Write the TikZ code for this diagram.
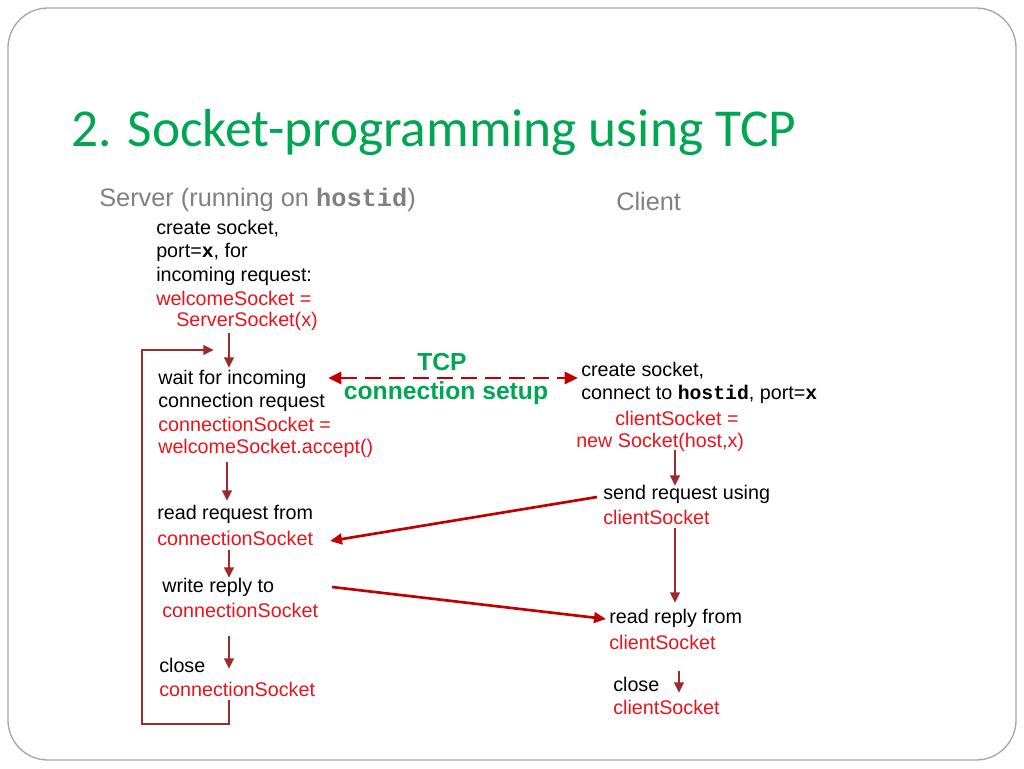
\documentclass[tikz,border=0pt]{standalone}
\usepackage{fontspec}
\setmainfont{Liberation Sans}
\setmonofont{Liberation Mono}
\newfontfamily\titlefont{Carlito}
\usetikzlibrary{arrows.meta}
\definecolor{tgreen}{HTML}{00A651}
\definecolor{dred}{HTML}{9E2A2A}
\definecolor{bred}{HTML}{C00000}
\definecolor{tred}{HTML}{E8141C}
\begin{document}
\begin{tikzpicture}[x=0.75pt,y=-0.75pt,
  txt/.style={anchor=west,inner sep=0pt,font=\fontsize{14.8}{17}\selectfont},
  rtxt/.style={txt,text=tred},
  down/.style={draw=dred,line width=2pt,-{Triangle[length=8pt,width=7pt]}},
  msg/.style={draw=bred,line width=2pt,-{Triangle[length=9pt,width=8pt]}}]
\useasboundingbox (0,0) rectangle (1024,768);
\fill[white] (0,0) rectangle (1024,768);
\draw[gray!70,line width=1pt,rounded corners=30] (8,8) rectangle (1016,760);
\node[anchor=west,inner sep=0pt,text=tgreen,font=\titlefont\fontsize{40}{46}\selectfont] (title) at (71,133) {2. Socket-programming using TCP};
\node[anchor=west,inner sep=0pt,text=gray,font=\fontsize{19}{22}\selectfont] (srv) at (99,200) {Server (running on \texttt{\bfseries hostid})};
\node[anchor=west,inner sep=0pt,text=gray,font=\fontsize{19}{22}\selectfont] (cli) at (616,201) {Client};
% server
\node[txt] (s1) at (156,229) {create socket,};
\node[txt] (s2) at (156,252) {port=\texttt{\bfseries x}, for};
\node[txt] (s3) at (156,276) {incoming request:};
\node[rtxt] (s4) at (156,298) {welcomeSocket =};
\node[rtxt] (s5) at (176,321) {ServerSocket(x)};
\node[txt] (w1) at (158,379) {wait for incoming};
\node[txt] (w2) at (158,402) {connection request};
\node[rtxt] (w3) at (158,424) {connectionSocket =};
\node[rtxt] (w4) at (158,448) {welcomeSocket.accept()};
\node[txt] (r1) at (157,514) {read request from};
\node[rtxt] (r2) at (157,538) {connectionSocket};
\node[txt] (p1) at (162,587) {write reply to};
\node[rtxt] (p2) at (162,610) {connectionSocket};
\node[txt] (c1) at (159,665) {close};
\node[rtxt] (c2) at (159,689) {connectionSocket};
% client
\node[txt] (k1) at (581,371) {create socket,};
\node[txt] (k2) at (581,394) {connect to \texttt{\bfseries hostid}, port=\texttt{\bfseries x}};
\node[rtxt] (k3) at (615,418) {clientSocket =};
\node[rtxt] (k4) at (576,442) {new Socket(host,x)};
\node[txt] (q1) at (603,494) {send request using};
\node[rtxt] (q2) at (603,517) {clientSocket};
\node[txt] (g1) at (609,618) {read reply from};
\node[rtxt] (g2) at (609,642) {clientSocket};
\node[txt] (x1) at (613,684) {close};
\node[rtxt] (x2) at (613,707) {clientSocket};
\node[inner sep=0pt,text=tgreen,font=\bfseries\fontsize{18.5}{22}\selectfont] (tcp) at (442,362) {TCP};
\node[inner sep=0pt,text=tgreen,font=\bfseries\fontsize{18.5}{22}\selectfont] (cs) at (446,393) {connection setup};
% arrows
\draw[down] (229,333) -- (229,368);
\draw[down] (227,462) -- (227,501);
\draw[down] (229,550) -- (229,578);
\draw[down] (229,636) -- (229,669);
\draw[down] (675,450) -- (675,486);
\draw[down] (675,528) -- (675,603);
\draw[down] (679,671) -- (679,693);
\draw[down] (229,700) -- (229,724) -- (142,724) -- (142,350) -- (214,350);
\draw[draw=bred,line width=2.2pt,dash pattern=on 12pt off 6pt,{Triangle[length=10pt,width=9pt]}-{Triangle[length=10pt,width=9pt]}] (328,378) -- (578,378);
\draw[msg] (597,497) -- (330,541);
\draw[msg] (332,587) -- (606,619);
\end{tikzpicture}
\end{document}
